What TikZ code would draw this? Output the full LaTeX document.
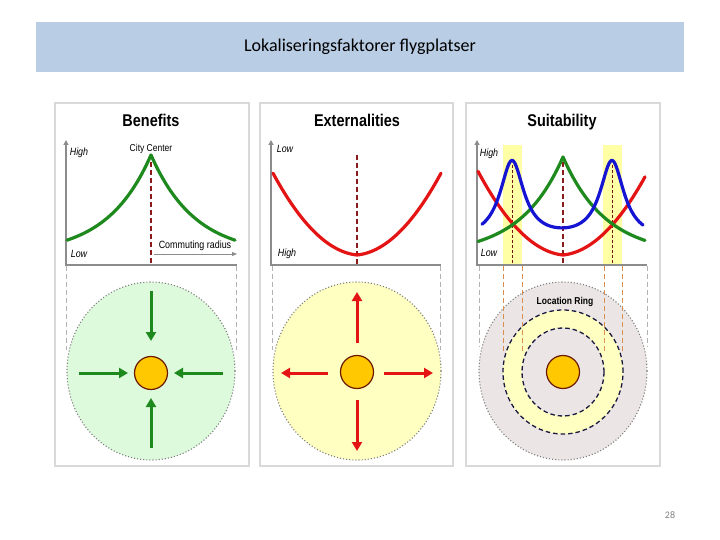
\documentclass[tikz,border=0pt]{standalone}
\usepackage{fontspec}
\setmainfont{Carlito}
\newfontfamily\narrow[FakeStretch=0.85]{Liberation Sans}
\usetikzlibrary{arrows.meta,shapes.geometric,calc}
\definecolor{hdr}{HTML}{B9CDE5}
\definecolor{gcol}{HTML}{1E8A1E}
\definecolor{rcol}{HTML}{E51414}
\definecolor{bcol}{HTML}{1414D2}
\definecolor{drk}{HTML}{8B1A1A}
\definecolor{axc}{HTML}{8C8C8C}
\definecolor{lgreen}{HTML}{DDFADD}
\definecolor{lyel}{HTML}{FFFFC2}
\definecolor{band}{HTML}{FFFFA6}
\definecolor{lgray}{HTML}{EBE5E5}
\definecolor{sun}{HTML}{FFC800}
\definecolor{sunb}{HTML}{6B1A00}
\definecolor{ring}{HTML}{1A1A40}
\definecolor{orng}{HTML}{D89050}
\begin{document}
\begin{tikzpicture}[x=1pt,y=-1pt,
  panel/.style={draw=gray!30, line width=1.2pt, fill=white, inner sep=0pt},
  ttl/.style={font=\narrow\bfseries\fontsize{17}{19}\selectfont, inner sep=0pt, text height=12.5pt, text depth=0pt},
  lbl/.style={font=\narrow\itshape\fontsize{10.5}{12}\selectfont, inner sep=0pt, text height=7.5pt, text depth=0pt},
  small/.style={font=\narrow\bfseries\fontsize{10}{12}\selectfont, inner sep=0pt, text height=7.5pt, text depth=0pt},
  yaxis/.style={draw=axc, line width=1.4pt, -{Triangle[length=5pt,width=5pt]}},
  xaxis/.style={draw=axc, line width=2.2pt},
  guide/.style={draw=gray!60, line width=0.9pt, dash pattern=on 5pt off 3pt},
  ctr/.style={draw=drk, line width=1.6pt, dash pattern=on 5pt off 3pt},
  crv/.style={line width=3.2pt, line join=round, line cap=round},
  big/.style={ellipse, draw=gray, dotted, line width=1.1pt, minimum width=168pt, minimum height=178pt, inner sep=0pt},
  sunc/.style={circle, fill=sun, draw=sunb, line width=1.2pt, minimum size=33pt, inner sep=0pt},
  garr/.style={draw=gcol, line width=3pt, -{Triangle[length=9pt,width=10pt]}},
  rarr/.style={draw=rcol, line width=3pt, -{Triangle[length=9pt,width=10pt]}},
  ringc/.style={ellipse, draw=ring, line width=1.3pt, dash pattern=on 4.5pt off 3pt, inner sep=0pt}
]
\useasboundingbox (0,0) rectangle (720,540);
\fill[white] (0,0) rectangle (720,540);

% header
\node[fill=hdr, minimum width=648pt, minimum height=50pt, inner sep=0pt,
      font=\fontsize{18}{20}\selectfont] (hdr) at (360,47) {Lokaliseringsfaktorer flygplatser};
\node[text=gray, font=\fontsize{10}{12}\selectfont, inner sep=0pt] (pg) at (670,515) {28};

% panels
\node[panel, minimum width=194pt, minimum height=363pt] (p1) at (152,284.5) {};
\node[panel, minimum width=193pt, minimum height=363pt] (p2) at (356.5,284.5) {};
\node[panel, minimum width=194pt, minimum height=363pt] (p3) at (563,284.5) {};

%================ Panel 1: Benefits
\node[ttl] (t1) at (151,120) {Benefits};
\draw[guide] (66,266) -- (66,350);
\draw[guide] (236,266) -- (236,350);
\node[big, fill=lgreen] (b1) at (151,371) {};
\draw[yaxis] (66,265) -- (66,140);
\draw[xaxis] (65,265) -- (237,265);
\node[lbl] (h1) at (79,152) {High};
\node[lbl] (l1) at (79,254) {Low};
\node[small, font=\narrow\fontsize{10}{12}\selectfont] (cc) at (151,148) {City Center};
\node[small, font=\narrow\fontsize{10.5}{12}\selectfont] (cr) at (195,245) {Commuting radius};
\draw[ctr] (151,162) -- (151,264);
\draw[crv, gcol] plot[domain=-84:84, samples=169] ({151+\x}, {255-100*exp(-abs(\x)/44)});
\draw[draw=axc, line width=1pt, -{Triangle[length=5pt,width=4pt]}] (154,254) -- (237,254);
\node[sunc] (s1) at (151,373) {};
\draw[garr] (151,291) -- (151,341);
\draw[garr] (151,448) -- (151,398);
\draw[garr] (79,373) -- (128,373);
\draw[garr] (223,373) -- (174,373);

%================ Panel 2: Externalities
\node[ttl] (t2) at (357,120) {Externalities};
\draw[guide] (272,266) -- (272,350);
\draw[guide] (440,266) -- (440,350);
\node[big, fill=lyel] (b2) at (357,371) {};
\draw[yaxis] (271,265) -- (271,140);
\draw[xaxis] (270,265) -- (441,265);
\node[lbl] (h2) at (285,149) {Low};
\node[lbl] (l2) at (287,253) {High};
\draw[ctr] (357,155) -- (357,264);
\draw[crv, rcol] plot[domain=-84:84, samples=169] ({357+\x}, {255-0.1*abs(\x)-0.0104*\x*\x});
\node[sunc] (s2) at (357,372) {};
\draw[rarr] (357,343) -- (357,292);
\draw[rarr] (357,400) -- (357,451);
\draw[rarr] (328,373) -- (281,373);
\draw[rarr] (384,373) -- (433,373);

%================ Panel 3: Suitability
\node[ttl] (t3) at (562,120) {Suitability};
\fill[band] (503,145) rectangle (522,264);
\fill[band] (603,145) rectangle (622,264);
\draw[guide] (479,266) -- (479,347);
\draw[guide] (647,266) -- (647,347);
\node[big, fill=lgray] (b3) at (563,371) {};
\node[ringc, fill=lyel, minimum width=120pt, minimum height=124pt] (r1) at (563,372) {};
\node[ringc, fill=lgray, minimum width=82pt, minimum height=88pt] (r2) at (563,372) {};
\foreach \xx in {503,522,604,622}
  \draw[orng, line width=0.9pt, dash pattern=on 5pt off 3pt] (\xx,266) -- (\xx,352);
\draw[yaxis] (477,265) -- (477,140);
\draw[xaxis] (476,265) -- (647,265);
\node[lbl] (h3) at (489,153) {High};
\node[lbl] (l3) at (489,253) {Low};
\draw[drk!80!black, line width=0.8pt, dash pattern=on 3pt off 2pt] (512,165) -- (512,264);
\draw[drk!80!black, line width=0.8pt, dash pattern=on 3pt off 2pt] (612,165) -- (612,264);
\draw[ctr] (563,162) -- (563,264);
\draw[crv, rcol] plot[domain=-85:82, samples=168] ({563+\x}, {255-0.1*abs(\x)-0.0104*\x*\x});
\draw[crv, gcol] plot[domain=-85:82, samples=168] ({563+\x}, {255-98*exp(-abs(\x)/43)});
\draw[crv, bcol] plot[domain=-81:80, samples=162] ({563+\x}, {240-78/(1+((\x+51)/14.5)^2)-78/(1+((\x-49)/14.5)^2)});
\node[small] (lr) at (565,301) {Location Ring};
\node[sunc] (s3) at (563,372) {};
\end{tikzpicture}
\end{document}
